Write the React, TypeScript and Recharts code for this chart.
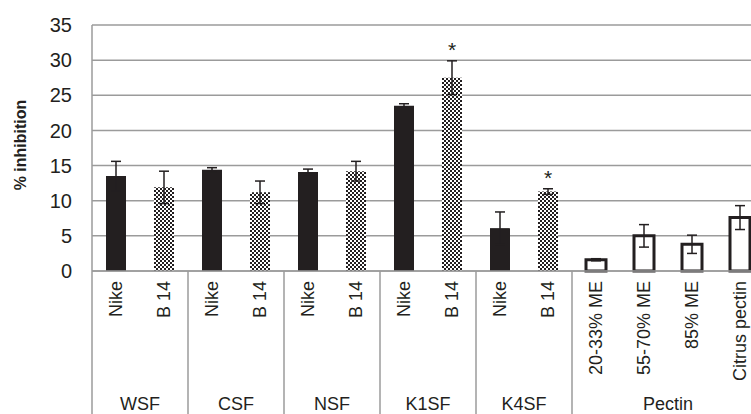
import { BarChart, Bar, XAxis, YAxis, CartesianGrid, ErrorBar, Cell, LabelList, Label } from "recharts";

const labels = ["Nike", "B 14", "Nike", "B 14", "Nike", "B 14", "Nike", "B 14", "Nike", "B 14", "20-33% ME", "55-70% ME", "85% ME", "Citrus pectin"];
const groups = ["WSF", "WSF", "CSF", "CSF", "NSF", "NSF", "K1SF", "K1SF", "K4SF", "K4SF", "Pectin", "Pectin", "Pectin", "Pectin"];
const kinds = ["nike", "b14", "nike", "b14", "nike", "b14", "nike", "b14", "nike", "b14", "pectin", "pectin", "pectin", "pectin"];
const values = [13.5, 11.9, 14.4, 11.2, 14.1, 14.2, 23.5, 27.5, 6.1, 11.3, 1.6, 5.0, 3.8, 7.6];
const errors = [2.1, 2.3, 0.3, 1.6, 0.4, 1.4, 0.3, 2.4, 2.3, 0.4, 0.15, 1.6, 1.3, 1.7];
const significant = [false, false, false, false, false, false, false, true, false, true, false, false, false, false];
const yTicks = [0, 5, 10, 15, 20, 25, 30, 35];

const data = values.map((v, i) => ({ id: String(i), value: v, err: errors[i] }));

const FONT = "'Liberation Sans', Arial, sans-serif";
const GRID = "#9b9b9b";
const INK = "#231f20";

function YTick(props: any) {
  const { y, payload } = props;
  return (
    <text x={72} y={y} dy="0.36em" textAnchor="end" fontSize={20} fontFamily={FONT} fill={INK}>
      {payload.value}
    </text>
  );
}

// rotated bar labels, plus group label and separators for the first bar of each group
function CatTick(props: any) {
  const { x, y, payload } = props;
  const i = Number(payload.value);
  const half = payload.offset || 24;
  const first = i === 0 || groups[i - 1] !== groups[i];
  let n = 0;
  while (i + n < groups.length && groups[i + n] === groups[i]) n++;
  const last = i === groups.length - 1;
  return (
    <g>
      <text
        x={x}
        y={y + 10}
        dy="0.36em"
        textAnchor="end"
        transform={`rotate(-90, ${x}, ${y + 10})`}
        fontSize={18}
        fontFamily={FONT}
        fill={INK}
      >
        {labels[i]}
      </text>
      {first && (
        <>
          <line x1={x - half} x2={x - half} y1={y} y2={y + 143} stroke={GRID} strokeWidth={1.5} />
          <text x={x - half + n * half} y={y + 139} textAnchor="middle" fontSize={18} fontFamily={FONT} fill={INK}>
            {groups[i]}
          </text>
        </>
      )}
      {last && <line x1={x + half} x2={x + half} y1={y} y2={y + 143} stroke={GRID} strokeWidth={1.5} />}
    </g>
  );
}

function Star(props: any) {
  const { x, y, width, height, index } = props;
  if (!significant[index]) return null;
  const perUnit = height / values[index];
  const top = y - errors[index] * perUnit;
  return (
    <text x={x + width / 2} y={top - 4} textAnchor="middle" fontSize={21} fontFamily={FONT} fill={INK}>
      *
    </text>
  );
}

export default function App() {
  return (
    <div style={{ position: "absolute", left: 0, top: 0, width: 751, height: 414, overflow: "hidden", background: "#fff" }}>
      <BarChart width={770} height={414} data={data} margin={{ top: 25, right: 6, left: 0, bottom: 0 }} barSize={20}>
        <defs>
          <pattern id="checker" width="4" height="4" patternUnits="userSpaceOnUse">
            <rect width="4" height="4" fill="#fff" />
            <rect width="2" height="2" fill={INK} />
            <rect x="2" y="2" width="2" height="2" fill={INK} />
          </pattern>
        </defs>
        <CartesianGrid vertical={false} stroke={GRID} strokeWidth={1.5} />
        <XAxis
          dataKey="id"
          interval={0}
          height={143}
          tickLine={false}
          tickSize={0}
          tickMargin={0}
          axisLine={{ stroke: GRID, strokeWidth: 1.5 }}
          tick={<CatTick />}
        />
        <YAxis
          width={92}
          domain={[0, 35]}
          ticks={yTicks}
          tickLine={false}
          axisLine={{ stroke: GRID, strokeWidth: 1.5 }}
          tick={<YTick />}
        >
          <Label
            content={() => (
              <text
                x={26}
                y={145}
                textAnchor="middle"
                transform="rotate(-90, 26, 145)"
                fontSize={16}
                fontWeight="bold"
                fontFamily={FONT}
                fill={INK}
              >
                % inhibition
              </text>
            )}
          />
        </YAxis>
        <Bar dataKey="value" isAnimationActive={false}>
          {data.map((d, i) => (
            <Cell
              key={d.id}
              fill={kinds[i] === "nike" ? INK : kinds[i] === "b14" ? "url(#checker)" : "#fff"}
              stroke={kinds[i] === "pectin" ? INK : "none"}
              strokeWidth={kinds[i] === "pectin" ? 3 : 0}
            />
          ))}
          <ErrorBar dataKey="err" direction="y" width={5} stroke={INK} strokeWidth={1.5} />
          <LabelList dataKey="value" content={<Star />} />
        </Bar>
      </BarChart>
    </div>
  );
}
